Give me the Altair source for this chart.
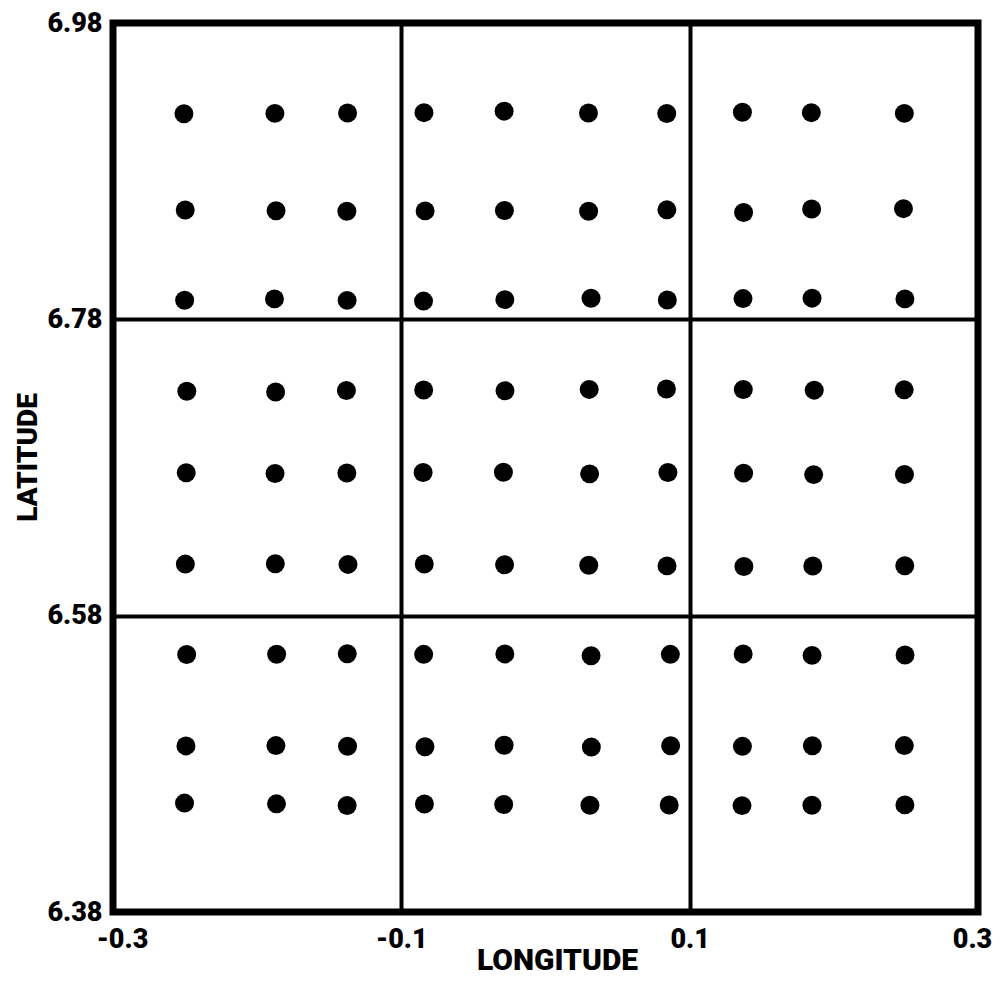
import altair as alt
import pandas as pd

# Longitude / latitude of each dot, row by row (top to bottom)
lon_a = [-0.2508, -0.1877, -0.1373, -0.0843, -0.0287, 0.0298, 0.0841, 0.1366, 0.1844, 0.2489]
lat_a = [6.9188, 6.9190, 6.9193, 6.9195, 6.9205, 6.9193, 6.9189, 6.9198, 6.9195, 6.9190]
lon_b = [-0.2499, -0.1869, -0.1378, -0.0835, -0.0285, 0.0299, 0.0842, 0.1374, 0.1846, 0.2483]
lat_b = [6.8538, 6.8533, 6.8529, 6.8532, 6.8534, 6.8530, 6.8539, 6.8521, 6.8545, 6.8547]
lon_c = [-0.2503, -0.1880, -0.1376, -0.0846, -0.0282, 0.0316, 0.0845, 0.1370, 0.1849, 0.2493]
lat_c = [6.7929, 6.7938, 6.7928, 6.7923, 6.7933, 6.7942, 6.7931, 6.7940, 6.7943, 6.7938]
lon_d = [-0.2488, -0.1872, -0.1381, -0.0845, -0.0281, 0.0303, 0.0839, 0.1372, 0.1864, 0.2488]
lat_d = [6.7315, 6.7310, 6.7320, 6.7323, 6.7318, 6.7327, 6.7330, 6.7326, 6.7322, 6.7324]
lon_e = [-0.2492, -0.1876, -0.1378, -0.0849, -0.0292, 0.0306, 0.0849, 0.1374, 0.1860, 0.2490]
lat_e = [6.6765, 6.6760, 6.6763, 6.6766, 6.6768, 6.6757, 6.6766, 6.6762, 6.6752, 6.6753]
lon_f = [-0.2498, -0.1874, -0.1370, -0.0841, -0.0284, 0.0300, 0.0843, 0.1376, 0.1854, 0.2492]
lat_f = [6.6148, 6.6150, 6.6146, 6.6149, 6.6144, 6.6140, 6.6136, 6.6132, 6.6135, 6.6137]
lon_g = [-0.2489, -0.1865, -0.1375, -0.0845, -0.0282, 0.0316, 0.0866, 0.1371, 0.1849, 0.2494]
lat_g = [6.5538, 6.5540, 6.5543, 6.5539, 6.5542, 6.5530, 6.5539, 6.5542, 6.5532, 6.5534]
lon_h = [-0.2494, -0.1870, -0.1373, -0.0836, -0.0287, 0.0318, 0.0868, 0.1366, 0.1851, 0.2489]
lat_h = [6.4921, 6.4923, 6.4919, 6.4915, 6.4925, 6.4913, 6.4922, 6.4918, 6.4922, 6.4923]
lon_i = [-0.2504, -0.1866, -0.1376, -0.0840, -0.0290, 0.0308, 0.0858, 0.1363, 0.1848, 0.2493]
lat_i = [6.4535, 6.4530, 6.4519, 6.4529, 6.4525, 6.4520, 6.4522, 6.4518, 6.4521, 6.4523]

x_ticks = [-0.3, -0.1, 0.1, 0.3]
y_ticks = [6.38, 6.58, 6.78, 6.98]

lons = lon_a + lon_b + lon_c + lon_d + lon_e + lon_f + lon_g + lon_h + lon_i
lats = lat_a + lat_b + lat_c + lat_d + lat_e + lat_f + lat_g + lat_h + lat_i
df = pd.DataFrame({"lon": lons, "lat": lats})

FONT = "Roboto"
WEIGHT = 900

x_axis = alt.Axis(
    values=x_ticks,
    labelExpr="datum.value < 0 ? '-' + format(abs(datum.value), '.1f') : format(datum.value, '.1f')",
    labelFont=FONT, labelFontSize=27, labelFontWeight=WEIGHT, labelColor="black",
    labelPadding=14, labelFlush=False, ticks=False, domain=False,
    labelOffset={"condition": [
        {"test": "datum.value < -0.25", "value": 9},
        {"test": "datum.value > 0.25", "value": -6},
    ], "value": 0},
    grid=True, gridColor="black", gridWidth=4, gridOpacity=1,
    title="LONGITUDE", titleFont=FONT, titleFontSize=30, titleFontWeight=WEIGHT,
    titleColor="black", titleX=444, titleY=57, titleBaseline="alphabetic", titleAlign="center",
)
y_axis = alt.Axis(
    values=y_ticks,
    labelExpr="format(datum.value, '.2f')",
    labelFont=FONT, labelFontSize=27, labelFontWeight=WEIGHT, labelColor="black",
    labelPadding=11, labelFlush=False, ticks=False, domain=False,
    grid=True, gridColor="black", gridWidth=4, gridOpacity=1,
    title="LATITUDE", titleFont=FONT, titleFontSize=28, titleFontWeight=WEIGHT,
    titleColor="black", titleAngle=270, titleX=-77, titleY=434,
    titleBaseline="alphabetic", titleAlign="center",
)

chart = alt.Chart(df).mark_circle(color="black", opacity=1, size=360).encode(
    x=alt.X("lon:Q", scale=alt.Scale(domain=[-0.3, 0.3], nice=False, zero=False), axis=x_axis),
    y=alt.Y("lat:Q", scale=alt.Scale(domain=[6.38, 6.98], nice=False, zero=False), axis=y_axis),
).properties(
    width=865, height=889,
    autosize=alt.AutoSizeParams(type="none"),
    padding={"left": 105, "top": 15, "right": 17, "bottom": 64},
    background="white",
).configure_view(stroke="black", strokeWidth=7)

chart.save("out.html", embed_options={"renderer": "svg", "actions": False})
